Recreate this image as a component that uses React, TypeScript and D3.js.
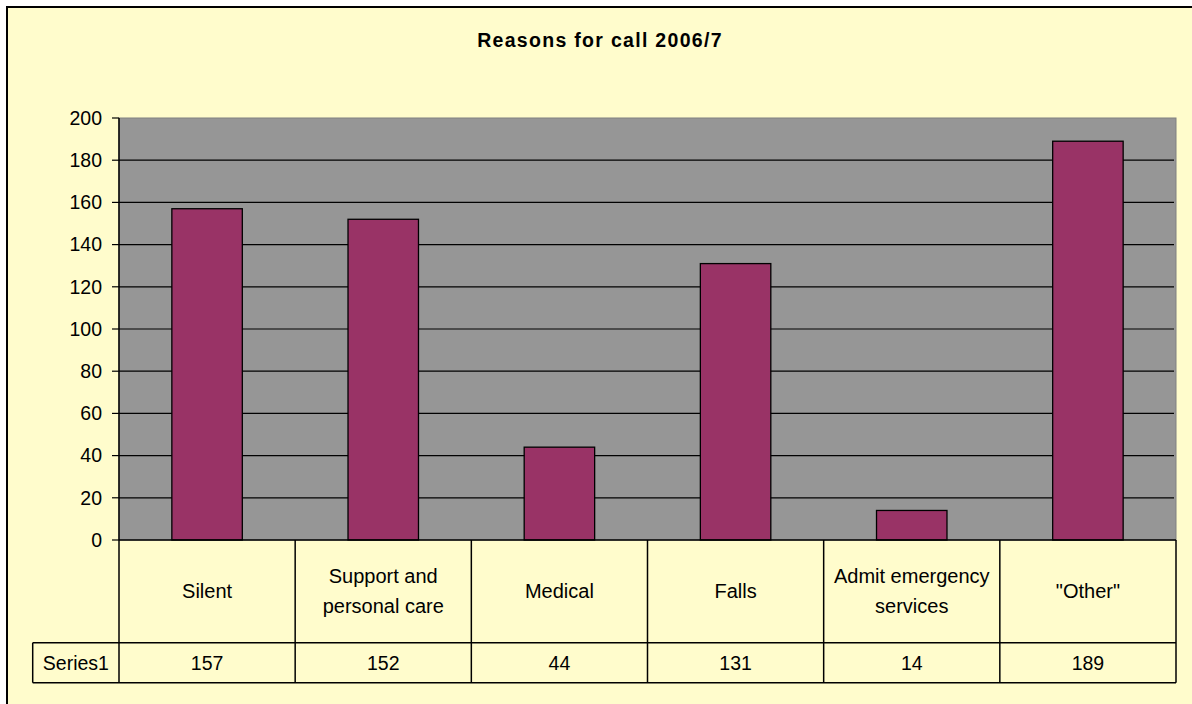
import React from "react";
import * as d3 from "d3";

const categories: string[][] = [
  ["Silent"],
  ["Support and", "personal care"],
  ["Medical"],
  ["Falls"],
  ["Admit emergency", "services"],
  ['"Other"'],
];
const values: number[] = [157, 152, 44, 131, 14, 189];
const seriesName = "Series1";
const yTicks: number[] = [0, 20, 40, 60, 80, 100, 120, 140, 160, 180, 200];
const title = "Reasons for call 2006/7";

const W = 1192;
const H = 704;
const plot = { left: 119, right: 1176, top: 118, bottom: 540 };
const catRowBottom = 642.7;
const serRowBottom = 682.7;
const seriesLeft = 32.7;
const FONT = "Arial, 'Liberation Sans', sans-serif";

export default function App() {
  const x = d3
    .scaleBand<number>()
    .domain(values.map((_, i) => i))
    .range([plot.left, plot.right])
    .paddingInner(0)
    .paddingOuter(0);
  const y = d3.scaleLinear().domain([0, 200]).range([plot.bottom, plot.top]);
  const bw = x.bandwidth();
  const barW = bw / 2.5;

  return (
    <svg
      width={W}
      height={H}
      style={{ position: "absolute", left: 0, top: 0, display: "block" }}
      fontFamily={FONT}
    >
      <rect x={0} y={0} width={W} height={H} fill="#ffffff" />
      <rect x={7} y={7} width={W + 10} height={H + 10} fill="#FFFCCC" stroke="#000" strokeWidth={2} />
      <text
        x={600}
        y={47}
        textAnchor="middle"
        fontSize={19.5}
        fontWeight="bold"
        letterSpacing={1.3}
        fill="#000"
      >
        {title}
      </text>

      {/* plot area */}
      <rect
        x={plot.left}
        y={plot.top}
        width={plot.right - plot.left}
        height={plot.bottom - plot.top}
        fill="#969696"
        stroke="#808080"
        strokeWidth={1}
      />
      {yTicks.filter((t) => t > 0 && t < 200).map((t) => (
        <line key={"g" + t} x1={plot.left} x2={plot.right - 2} y1={y(t)} y2={y(t)} stroke="#000" strokeWidth={1.2} />
      ))}

      {/* bars */}
      {values.map((v, i) => (
        <rect
          key={"b" + i}
          x={(x(i) as number) + (bw - barW) / 2}
          y={y(v)}
          width={barW}
          height={y(0) - y(v)}
          fill="#993366"
          stroke="#000"
          strokeWidth={1.3}
        />
      ))}

      {/* y axis */}
      <line x1={plot.left} x2={plot.left} y1={plot.top} y2={plot.bottom} stroke="#000" strokeWidth={1.5} />
      {yTicks.map((t) => (
        <g key={"t" + t}>
          <line x1={plot.left - 7} x2={plot.left} y1={y(t)} y2={y(t)} stroke="#000" strokeWidth={1.2} />
          <text x={102} y={y(t)} dy="0.35em" textAnchor="end" fontSize={19.5} fill="#000">
            {t}
          </text>
        </g>
      ))}

      {/* data table */}
      <line x1={plot.left} x2={plot.right} y1={plot.bottom} y2={plot.bottom} stroke="#000" strokeWidth={1.5} />
      <line x1={seriesLeft} x2={plot.right} y1={catRowBottom} y2={catRowBottom} stroke="#000" strokeWidth={1.5} />
      <line x1={seriesLeft} x2={plot.right} y1={serRowBottom} y2={serRowBottom} stroke="#000" strokeWidth={1.5} />
      <line x1={seriesLeft} x2={seriesLeft} y1={catRowBottom} y2={serRowBottom} stroke="#000" strokeWidth={1.5} />
      {values.map((_, i) => (
        <line
          key={"v" + i}
          x1={(x(i) as number) + bw}
          x2={(x(i) as number) + bw}
          y1={plot.bottom}
          y2={serRowBottom}
          stroke="#000"
          strokeWidth={1.5}
        />
      ))}
      <line x1={plot.left} x2={plot.left} y1={plot.bottom} y2={serRowBottom} stroke="#000" strokeWidth={1.5} />

      {categories.map((lines, i) => {
        const cx = (x(i) as number) + bw / 2;
        const lh = 30;
        const mid = (plot.bottom + catRowBottom) / 2;
        const start = mid - ((lines.length - 1) * lh) / 2;
        return (
          <text key={"c" + i} textAnchor="middle" fontSize={20} fill="#000">
            {lines.map((l, j) => (
              <tspan key={j} x={cx} y={start + j * lh} dy="0.35em">
                {l}
              </tspan>
            ))}
          </text>
        );
      })}

      <text
        x={(seriesLeft + plot.left) / 2}
        y={(catRowBottom + serRowBottom) / 2}
        dy="0.35em"
        textAnchor="middle"
        fontSize={19.5}
        fill="#000"
      >
        {seriesName}
      </text>
      {values.map((v, i) => (
        <text
          key={"s" + i}
          x={(x(i) as number) + bw / 2}
          y={(catRowBottom + serRowBottom) / 2}
          dy="0.35em"
          textAnchor="middle"
          fontSize={19.5}
          fill="#000"
        >
          {v}
        </text>
      ))}
    </svg>
  );
}
